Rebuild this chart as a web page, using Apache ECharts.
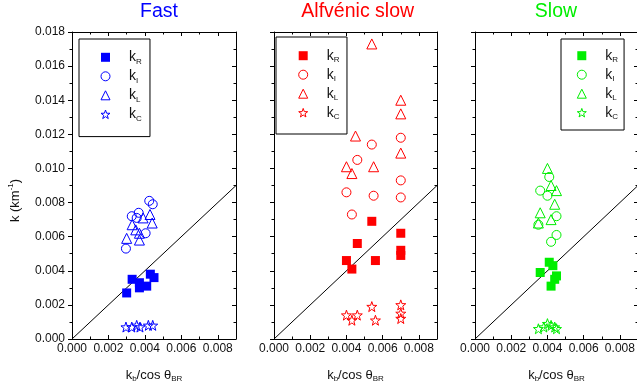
<!DOCTYPE html>
<html><head><meta charset="utf-8">
<script src="https://cdn.jsdelivr.net/npm/echarts@6.0.0/dist/echarts.min.js"></script>
<style>html,body{margin:0;padding:0;background:#fff}#c{width:637px;height:392px}</style>
</head><body><div id="c"></div>
<script>
// ---------- data ----------
const panelTitles = ['Fast', 'Alfvénic slow', 'Slow'];
const panelColors = ['#0000ff', '#ff0000', '#00ee00'];
const kinds = ['R', 'I', 'L', 'C'];
const xTickValues = [0, 0.002, 0.004, 0.006, 0.008];
const yTickValues = [0, 0.002, 0.004, 0.006, 0.008, 0.010, 0.012, 0.014, 0.016, 0.018];
const diagonal = [[0, 0], [0.009, 0.009]];

// Fast
const fastR = [[0.0030,0.0027],[0.0033,0.0035],[0.0037,0.0033],[0.0037,0.0030],[0.0041,0.0031],[0.0043,0.0038],[0.0045,0.0036]];
const fastI = [[0.00424,0.0081],[0.00443,0.0079],[0.00328,0.0072],[0.00366,0.0074],[0.00355,0.0071],[0.00404,0.0062],[0.00296,0.0053]];
const fastL = [[0.00428,0.0073],[0.0039,0.0071],[0.0044,0.0068],[0.0033,0.0067],[0.0035,0.0064],[0.0030,0.0059],[0.0037,0.0062],[0.0037,0.0058]];
const fastC = [[0.00296,0.0007],[0.00328,0.0007],[0.00355,0.0008],[0.00373,0.0007],[0.00419,0.0008],[0.00443,0.0008]];
// Alfvénic slow
const alfR = [[0.0054,0.0069],[0.0070,0.0062],[0.0046,0.0056],[0.0070,0.0052],[0.0070,0.0049],[0.0040,0.0046],[0.0043,0.0041],[0.0056,0.0046]];
const alfI = [[0.0054,0.0114],[0.0070,0.0118],[0.0046,0.0105],[0.0070,0.0093],[0.0040,0.0086],[0.0055,0.0084],[0.0070,0.0083],[0.0043,0.0073]];
const alfL = [[0.0054,0.0173],[0.0070,0.0140],[0.0070,0.0132],[0.0045,0.0119],[0.0070,0.0109],[0.0040,0.0101],[0.0055,0.0101],[0.0043,0.0097]];
const alfC = [[0.0054,0.0019],[0.0070,0.0020],[0.0070,0.0015],[0.0070,0.0012],[0.0040,0.0014],[0.0046,0.0014],[0.0043,0.0011],[0.0056,0.0011]];
// Slow
const slowR = [[0.0041,0.0045],[0.0043,0.0043],[0.0036,0.0039],[0.0045,0.0037],[0.0044,0.0035],[0.0042,0.0031]];
const slowI = [[0.0041,0.0095],[0.0036,0.0087],[0.0040,0.0084],[0.0045,0.0072],[0.0045,0.0061],[0.0042,0.0057],[0.0035,0.0067]];
const slowL = [[0.0040,0.0100],[0.0042,0.0090],[0.0045,0.0087],[0.0044,0.0079],[0.0036,0.0074],[0.0042,0.0070],[0.0035,0.0068]];
const slowC = [[0.0035,0.0006],[0.0038,0.0007],[0.0040,0.0009],[0.0042,0.0008],[0.0044,0.0007],[0.0045,0.0006]];

const panelData = [[fastR, fastI, fastL, fastC], [alfR, alfI, alfL, alfC], [slowR, slowI, slowL, slowC]];

// ---------- layout / style ----------
const FONT = '"Liberation Sans", Arial, sans-serif';
const starPath = 'path://M0,-10L2.35,-3.24L9.51,-3.09L3.8,1.24L5.88,8.09L0,4L-5.88,8.09L-3.8,1.24L-9.51,-3.09L-2.35,-3.24Z';
const layout = [
  {left: 72, width: 164, titleX: 159, legend: {left: 79, top: 39, padding: [11.3, 8.2, 14.3, 21.5]}},
  {left: 274, width: 163, titleX: 357.7, legend: {left: 276, top: 37, padding: [11.7, 7.5, 13.3, 22.2]}},
  {left: 475, width: 163, titleX: 556, legend: {left: 561, top: 39, padding: [9.7, 6, 9.3, 15.8]}}
];
const symbols = ['rect', 'circle', 'triangle', starPath];
const symbolSizes = [9, 9, 10, 10];

const grids = [], xAxes = [], yAxes = [], series = [], legends = [], titles = [];
const tickFmt = v => v.toFixed(3);
const axisLine = {show: true, onZero: false, lineStyle: {color: '#000', width: 1}};

layout.forEach((L, i) => {
  const color = panelColors[i];
  grids.push({left: L.left, width: L.width, top: 32, height: 307, outerBoundsMode: 'none', containLabel: false});
  // bottom x
  xAxes.push({
    type: 'value', gridIndex: i, position: 'bottom', min: 0, max: 0.009, interval: 0.002,
    axisLine, splitLine: {show: false},
    axisTick: {show: true, inside: true, length: 4, lineStyle: {color: '#000'}},
    minorTick: {show: true, splitNumber: 2, length: 2.5, lineStyle: {color: '#000'}},
    axisLabel: {show: true, formatter: tickFmt, color: '#111', fontSize: 12, fontFamily: FONT, margin: 4},
    name: '{a|k}{s|b}{a|/cos θ}{s|BR}', nameLocation: 'middle', nameGap: 28,
    nameTextStyle: {fontFamily: FONT, color: '#111', rich: {
      a: {fontSize: 13, lineHeight: 16, fontFamily: FONT, color: '#111'},
      s: {fontSize: 8, lineHeight: 3, verticalAlign: 'bottom', fontFamily: FONT, color: '#111'}
    }}
  });
  // top x
  xAxes.push({
    type: 'value', gridIndex: i, position: 'top', min: 0, max: 0.009, interval: 0.002,
    axisLine, splitLine: {show: false},
    axisTick: {show: true, inside: true, length: 4, lineStyle: {color: '#000'}},
    minorTick: {show: true, splitNumber: 2, length: 2.5, lineStyle: {color: '#000'}},
    axisLabel: {show: false}
  });
  // left y
  const leftY = {
    type: 'value', gridIndex: i, position: 'left', min: 0, max: 0.018, interval: 0.002,
    axisLine, splitLine: {show: false},
    axisTick: {show: true, inside: false, length: 4, lineStyle: {color: '#000'}},
    minorTick: {show: true, splitNumber: 2, length: 2.5, lineStyle: {color: '#000'}},
    axisLabel: {show: i === 0, formatter: tickFmt, color: '#111', fontSize: 12, fontFamily: FONT, margin: 7}
  };
  if (i === 0) {
    Object.assign(leftY, {
      name: '{a|k (km}{p|-1}{a|)}', nameLocation: 'middle', nameGap: 49, nameRotate: 90,
      nameTextStyle: {fontFamily: FONT, color: '#111', padding: [0, 30, 0, 0], rich: {
        a: {fontSize: 13, lineHeight: 16, fontFamily: FONT, color: '#111'},
        p: {fontSize: 8, lineHeight: 4, verticalAlign: 'top', fontFamily: FONT, color: '#111'}
      }}
    });
  }
  yAxes.push(leftY);
  // right y
  yAxes.push({
    type: 'value', gridIndex: i, position: 'right', min: 0, max: 0.018, interval: 0.002,
    axisLine, splitLine: {show: false},
    axisTick: {show: true, inside: true, length: 4, lineStyle: {color: '#000'}},
    minorTick: {show: true, splitNumber: 2, length: 2.5, lineStyle: {color: '#000'}},
    axisLabel: {show: false}
  });

  titles.push({
    text: panelTitles[i], left: L.titleX, top: 2, padding: 0, textAlign: 'center',
    textStyle: {color, fontSize: 19.5, fontWeight: 'normal', fontFamily: FONT}
  });

  const names = [];
  kinds.forEach((k, j) => {
    const name = panelTitles[i] + '|' + k;
    names.push(name);
    const filled = j === 0;
    series.push({
      type: 'scatter', name, xAxisIndex: 2 * i, yAxisIndex: 2 * i,
      symbol: symbols[j], symbolSize: symbolSizes[j],
      data: panelData[i][j],
      itemStyle: filled ? {color, borderWidth: 0, opacity: 1}
                        : {color: 'rgba(255,255,255,0)', borderColor: color, borderWidth: 1, opacity: 1},
      emphasis: {disabled: true}, z: 3
    });
  });
  series.push({
    type: 'line', name: 'diag' + i, xAxisIndex: 2 * i, yAxisIndex: 2 * i,
    data: diagonal, symbol: 'none', silent: true,
    lineStyle: {color: '#000', width: 1}, z: 2
  });

  legends.push({
    data: names, orient: 'vertical', left: L.legend.left, top: L.legend.top,
    padding: L.legend.padding, itemWidth: 9, itemHeight: 9, itemGap: 4,
    itemStyle: {borderWidth: 1},
    borderColor: '#000', borderWidth: 1, selectedMode: false,
    formatter: n => '{k|k}{s|' + n.split('|')[1] + '}',
    textStyle: {fontFamily: FONT, color: '#111', padding: [0, 0, 0, 14], rich: {
      k: {fontSize: 14, lineHeight: 16, fontFamily: FONT, color: '#111'},
      s: {fontSize: 8, lineHeight: 3, verticalAlign: 'bottom', fontFamily: FONT, color: '#111'}
    }}
  });
});

const chart = echarts.init(document.getElementById('c'), null, {renderer: 'canvas'});
chart.setOption({
  animation: false,
  backgroundColor: '#fff',
  title: titles,
  grid: grids,
  xAxis: xAxes,
  yAxis: yAxes,
  legend: legends,
  series
});
</script>
</body></html>
